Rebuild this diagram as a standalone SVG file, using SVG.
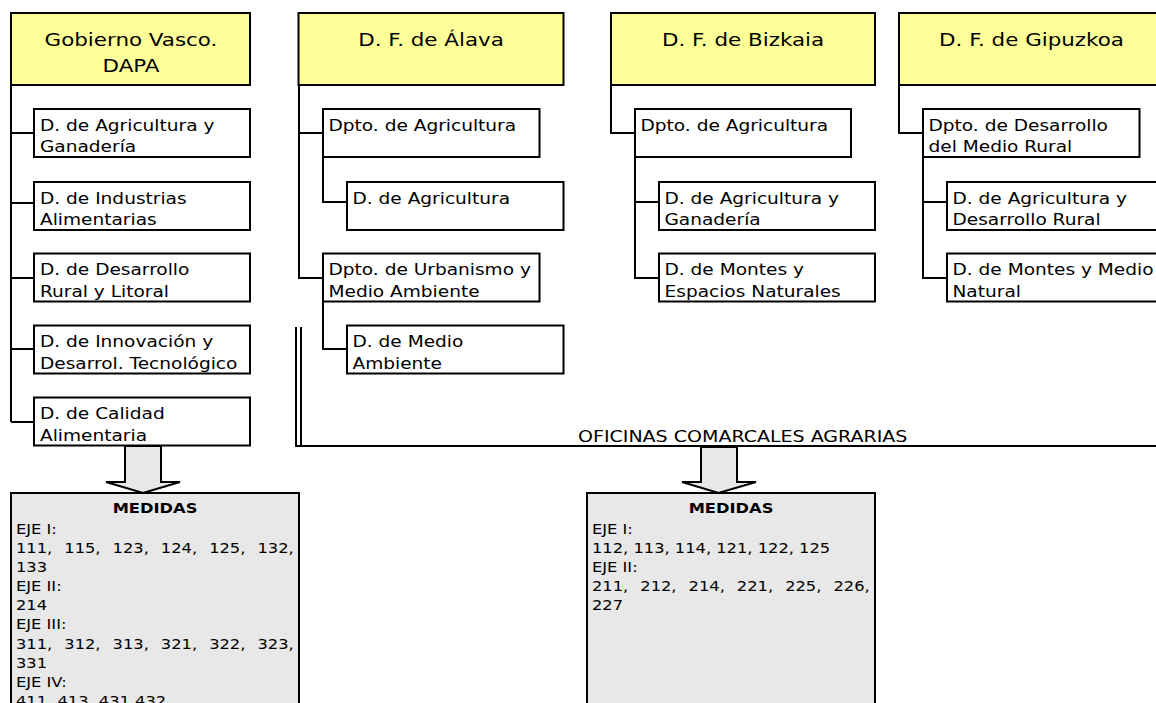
<svg xmlns="http://www.w3.org/2000/svg" width="1156" height="703" viewBox="0 0 1156 703">
<style>
.hdr{fill:#FFFF99;stroke:#000;stroke-width:2}
.box{fill:#FFFFFF;stroke:#000;stroke-width:2}
.med{fill:#E8E8E8;stroke:#000;stroke-width:2}
.arr{fill:#E8E8E8;stroke:#000;stroke-width:2;stroke-linejoin:miter}
.ln{fill:none;stroke:#000;stroke-width:2}
text{font-family:"DejaVu Sans",Verdana,"Liberation Sans",sans-serif;fill:#000}
.t{font-size:15.8px}
.th{font-size:18px;text-anchor:middle}
.tm{font-size:14.2px}
.tb{font-size:14.2px;font-weight:bold;text-anchor:middle}
.to{font-size:16.2px;text-anchor:middle}
</style>
<rect width="1156" height="703" fill="#FFFFFF"/>

<g id="connectors">
<path class="ln" d="M11 85V422M11 133H34M11 203H34M11 278H34M11 349H34M11 422H34"/>
<path class="ln" d="M299 85V278H323M299 133H323M323 157V202H347M323 301.5V349H347"/>
<path class="ln" d="M611 85V133H635M635 157V278H659M635 202H659"/>
<path class="ln" d="M899 85V133H923M923 157V278H947M923 202H947"/>
<path class="ln" d="M296 327V446H1160M301 327V446"/>
<polygon class="arr" points="125,446 161,446 161,482 180,482 143,493 106,482 125,482"/>
<polygon class="arr" points="701,447 737,447 737,482 756,482 718.5,493 682,482 701,482"/>
<text class="to" transform="translate(742.7 442) scale(1.175 1)">OFICINAS COMARCALES AGRARIAS</text>
</g>

<g id="gobierno">
<rect class="hdr" x="11" y="13" width="239" height="72"/>
<text class="th" transform="translate(131 46) scale(1.19 1)"><tspan x="0" y="0">Gobierno Vasco.</tspan><tspan x="0" y="25.7">DAPA</tspan></text>
</g>
<g id="gv-agricultura">
<rect class="box" x="34" y="109" width="216" height="48"/>
<text class="t" transform="translate(40 130.7) scale(1.175 1)"><tspan x="0" y="0">D. de Agricultura y</tspan><tspan x="0" y="21.8">Ganadería</tspan></text>
</g>
<g id="gv-industrias">
<rect class="box" x="34" y="182" width="216" height="48"/>
<text class="t" transform="translate(40 203.7) scale(1.175 1)"><tspan x="0" y="0">D. de Industrias</tspan><tspan x="0" y="21.8">Alimentarias</tspan></text>
</g>
<g id="gv-desarrollo">
<rect class="box" x="34" y="253.5" width="216" height="48"/>
<text class="t" transform="translate(40 275.2) scale(1.175 1)"><tspan x="0" y="0">D. de Desarrollo</tspan><tspan x="0" y="21.8">Rural y Litoral</tspan></text>
</g>
<g id="gv-innovacion">
<rect class="box" x="34" y="325.5" width="216" height="48"/>
<text class="t" transform="translate(40 347.2) scale(1.175 1)"><tspan x="0" y="0">D. de Innovación y</tspan><tspan x="0" y="21.8">Desarrol. Tecnológico</tspan></text>
</g>
<g id="gv-calidad">
<rect class="box" x="34" y="397.5" width="216" height="48"/>
<text class="t" transform="translate(40 419.2) scale(1.175 1)"><tspan x="0" y="0">D. de Calidad</tspan><tspan x="0" y="21.8">Alimentaria</tspan></text>
</g>

<g id="alava">
<rect class="hdr" x="298.5" y="13" width="265" height="72"/>
<text class="th" transform="translate(431 46) scale(1.19 1)">D. F. de Álava</text>
</g>
<g id="al-dpto-agricultura">
<rect class="box" x="323" y="109" width="216.5" height="48"/>
<text class="t" transform="translate(328.5 130.7) scale(1.175 1)">Dpto. de Agricultura</text>
</g>
<g id="al-agricultura">
<rect class="box" x="347" y="182" width="216.5" height="48"/>
<text class="t" transform="translate(352.5 203.7) scale(1.175 1)">D. de Agricultura</text>
</g>
<g id="al-urbanismo">
<rect class="box" x="323" y="253.5" width="216.5" height="48"/>
<text class="t" transform="translate(328.5 275.2) scale(1.175 1)"><tspan x="0" y="0">Dpto. de Urbanismo y</tspan><tspan x="0" y="21.8">Medio Ambiente</tspan></text>
</g>
<g id="al-medio-ambiente">
<rect class="box" x="347" y="325.5" width="216.5" height="48"/>
<text class="t" transform="translate(352.5 347.2) scale(1.175 1)"><tspan x="0" y="0">D. de Medio</tspan><tspan x="0" y="21.8">Ambiente</tspan></text>
</g>

<g id="bizkaia">
<rect class="hdr" x="611" y="13" width="264" height="72"/>
<text class="th" transform="translate(743 46) scale(1.19 1)">D. F. de Bizkaia</text>
</g>
<g id="bi-dpto-agricultura">
<rect class="box" x="635" y="109" width="216" height="48"/>
<text class="t" transform="translate(640.5 130.7) scale(1.175 1)">Dpto. de Agricultura</text>
</g>
<g id="bi-agricultura">
<rect class="box" x="659" y="182" width="216" height="48"/>
<text class="t" transform="translate(664.5 203.7) scale(1.175 1)"><tspan x="0" y="0">D. de Agricultura y</tspan><tspan x="0" y="21.8">Ganadería</tspan></text>
</g>
<g id="bi-montes">
<rect class="box" x="659" y="253.5" width="216" height="48"/>
<text class="t" transform="translate(664.5 275.2) scale(1.175 1)"><tspan x="0" y="0">D. de Montes y</tspan><tspan x="0" y="21.8">Espacios Naturales</tspan></text>
</g>

<g id="gipuzkoa">
<rect class="hdr" x="899" y="13" width="265" height="72"/>
<text class="th" transform="translate(1031.5 46) scale(1.19 1)">D. F. de Gipuzkoa</text>
</g>
<g id="gi-dpto-desarrollo">
<rect class="box" x="923" y="109" width="216.5" height="48"/>
<text class="t" transform="translate(928.5 130.7) scale(1.175 1)"><tspan x="0" y="0">Dpto. de Desarrollo</tspan><tspan x="0" y="21.8">del Medio Rural</tspan></text>
</g>
<g id="gi-agricultura">
<rect class="box" x="947" y="182" width="217" height="48"/>
<text class="t" transform="translate(952.5 203.7) scale(1.175 1)"><tspan x="0" y="0">D. de Agricultura y</tspan><tspan x="0" y="21.8">Desarrollo Rural</tspan></text>
</g>
<g id="gi-montes">
<rect class="box" x="947" y="253.5" width="217" height="48"/>
<text class="t" transform="translate(952.5 275.2) scale(1.175 1)"><tspan x="0" y="0">D. de Montes y Medio</tspan><tspan x="0" y="21.8">Natural</tspan></text>
</g>

<g id="medidas-gv">
<rect class="med" x="11" y="493" width="288" height="230"/>
<text class="tb" transform="translate(155 512.7) scale(1.148 1)">MEDIDAS</text>
<text class="tm" transform="translate(16 534) scale(1.148 1)"><tspan x="0" y="0">EJE I:</tspan><tspan x="0" y="19.1" word-spacing="5.98">111, 115, 123, 124, 125, 132,</tspan><tspan x="0" y="38.2">133</tspan><tspan x="0" y="57.3">EJE II:</tspan><tspan x="0" y="76.4">214</tspan><tspan x="0" y="95.5">EJE III:</tspan><tspan x="0" y="114.6" word-spacing="5.98">311, 312, 313, 321, 322, 323,</tspan><tspan x="0" y="133.7">331</tspan><tspan x="0" y="152.8">EJE IV:</tspan><tspan x="0" y="171.9">411, 413, 431,432</tspan></text>
</g>

<g id="medidas-oca">
<rect class="med" x="587" y="493" width="288" height="230"/>
<text class="tb" transform="translate(731 512.7) scale(1.148 1)">MEDIDAS</text>
<text class="tm" transform="translate(592 534) scale(1.148 1)"><tspan x="0" y="0">EJE I:</tspan><tspan x="0" y="19.1">112, 113, 114, 121, 122, 125</tspan><tspan x="0" y="38.2">EJE II:</tspan><tspan x="0" y="57.3" word-spacing="5.98">211, 212, 214, 221, 225, 226,</tspan><tspan x="0" y="76.4">227</tspan></text>
</g>
</svg>
